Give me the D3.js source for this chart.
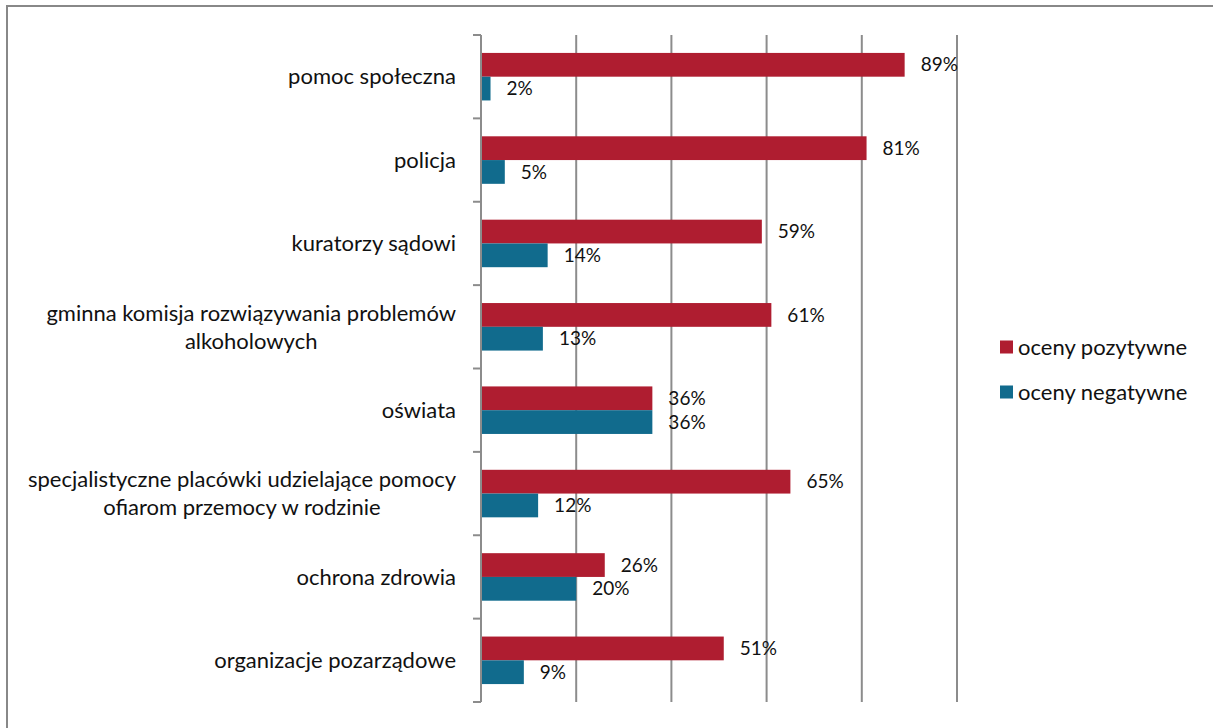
<!DOCTYPE html>
<html>
<head>
<meta charset="utf-8">
<script src="https://cdn.jsdelivr.net/npm/d3@7"></script>
<style>
html,body{margin:0;padding:0;background:#fff;}
svg{display:block;}
text{font-family:Lato,"Open Sans",sans-serif;fill:#111;}
</style>
</head>
<body>
<script>
const categories = [
  "pomoc społeczna",
  "policja",
  "kuratorzy sądowi",
  "gminna komisja rozwiązywania problemów|alkoholowych",
  "oświata",
  "specjalistyczne placówki udzielające pomocy|ofiarom przemocy w rodzinie",
  "ochrona zdrowia",
  "organizacje pozarządowe"
];
const seriesNames = ["oceny pozytywne", "oceny negatywne"];
const positive = [89, 81, 59, 61, 36, 65, 26, 51];
const negative = [2, 5, 14, 13, 36, 12, 20, 9];
const xTicks = [0, 20, 40, 60, 80, 100];
const colors = ["#AF1D30", "#116B8D"];

const W = 1213, H = 728;
const svg = d3.select("body").append("svg").attr("width", W).attr("height", H);

svg.append("rect").attr("x", 7).attr("y", 6).attr("width", W + 20).attr("height", H + 20)
  .attr("fill", "none").attr("stroke", "#888").attr("stroke-width", 2);

const plot = {left: 481, right: 957, top: 35, bottom: 702};
const x = d3.scaleLinear().domain([0, 100]).range([plot.left, plot.right]);
const y = d3.scaleBand().domain(d3.range(categories.length))
  .range([plot.top, plot.bottom]).paddingInner(0.43).paddingOuter(0.215);
const ySub = d3.scaleBand().domain([0, 1]).range([0, y.bandwidth()]);
const step = y.step();

svg.append("g").selectAll("line").data(xTicks.slice(1)).join("line")
  .attr("x1", d => x(d)).attr("x2", d => x(d))
  .attr("y1", plot.top).attr("y2", plot.bottom)
  .attr("stroke", "#8c8c8c").attr("stroke-width", 2);

const data = categories.map((c, i) => ({i, vals: [positive[i], negative[i]]}));

const groups = svg.append("g").selectAll("g").data(data).join("g")
  .attr("transform", d => `translate(0,${y(d.i)})`);

groups.selectAll("rect").data(d => d.vals.map((v, s) => ({v, s}))).join("rect")
  .attr("x", x(0)).attr("y", d => ySub(d.s))
  .attr("width", d => x(d.v) - x(0)).attr("height", ySub.bandwidth())
  .attr("fill", d => colors[d.s]);

groups.selectAll("text.val").data(d => d.vals.map((v, s) => ({v, s}))).join("text")
  .attr("class", "val")
  .attr("x", d => x(d.v) + 16).attr("y", d => ySub(d.s) + ySub.bandwidth() / 2)
  .attr("dy", "0.35em").attr("font-size", 19)
  .text(d => d.v + "%");

svg.append("line").attr("x1", plot.left).attr("x2", plot.left)
  .attr("y1", plot.top).attr("y2", plot.bottom)
  .attr("stroke", "#8c8c8c").attr("stroke-width", 2);
const bounds = d3.range(categories.length + 1).map(i => plot.top + i * step);
svg.append("g").selectAll("line").data(bounds).join("line")
  .attr("x1", plot.left - 8).attr("x2", plot.left)
  .attr("y1", d => d).attr("y2", d => d)
  .attr("stroke", "#8c8c8c").attr("stroke-width", 2);

const fs = 22, lh = 28;
categories.forEach((c, i) => {
  const lines = c.split("|");
  const cy = y(i) + y.bandwidth() / 2;
  const g = svg.append("g");
  const texts = lines.map((l, k) => g.append("text")
    .attr("font-size", fs)
    .attr("y", cy + (k - (lines.length - 1) / 2) * lh)
    .attr("dy", "0.35em").text(l));
  const widths = texts.map(t => t.node().getComputedTextLength());
  const maxW = d3.max(widths);
  const rightEdge = 456;
  texts.forEach(t => t.attr("x", rightEdge - maxW / 2).attr("text-anchor", "middle"));
});

const legend = svg.append("g").selectAll("g").data(seriesNames).join("g")
  .attr("transform", (d, i) => `translate(1000,${347 + i * 45})`);
legend.append("rect").attr("x", 0).attr("y", -6.5).attr("width", 13).attr("height", 13)
  .attr("fill", (d, i) => colors[i]);
legend.append("text").attr("x", 18).attr("dy", "0.35em").attr("font-size", 22).text(d => d);
</script>
</body>
</html>
